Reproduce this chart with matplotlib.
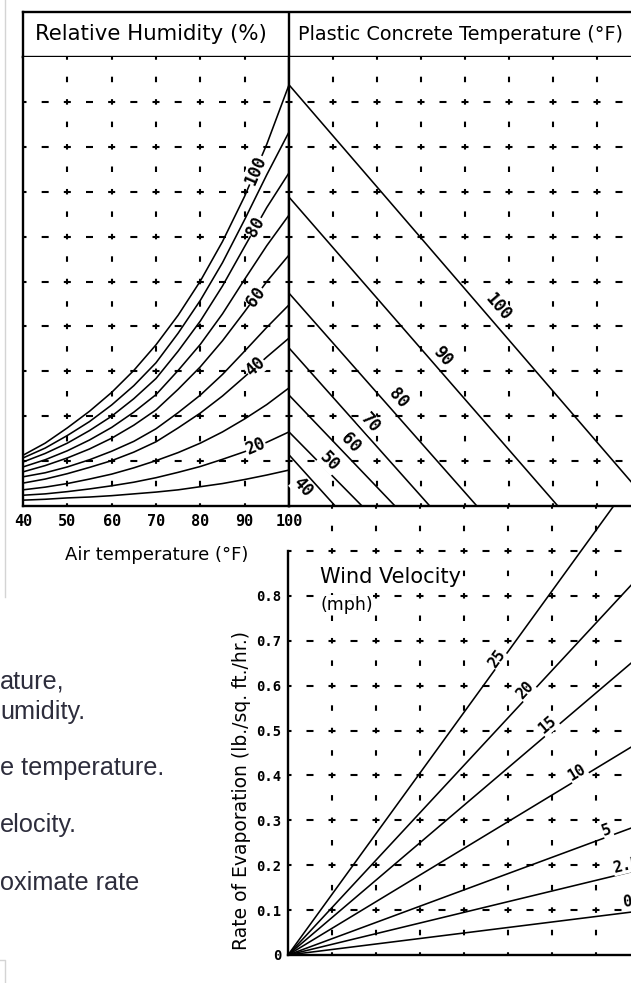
import numpy as np
import matplotlib
matplotlib.use('Agg')
import matplotlib.pyplot as plt
from matplotlib.lines import Line2D

plt.rcParams['lines.scale_dashes'] = False

W, H, DPI = 631, 983, 100

# ---------------- data ----------------
air_temp = [40, 45, 50, 55, 60, 65, 70, 75, 80, 85, 90, 95, 100]
air_ticks = [40, 50, 60, 70, 80, 90, 100]
rh_levels = [100, 90, 80, 70, 60, 50, 40, 30, 20, 10]
rh_100 = [1.13, 1.40, 1.74, 2.11, 2.53, 3.02, 3.59, 4.25, 5.01, 5.89, 6.90, 8.06, 9.38]
rh_90 = [1.07, 1.29, 1.57, 1.88, 2.25, 2.68, 3.19, 3.85, 4.58, 5.42, 6.38, 7.38, 8.33]
rh_80 = [0.98, 1.17, 1.40, 1.68, 2.00, 2.39, 2.84, 3.45, 4.12, 4.90, 5.78, 6.65, 7.42]
rh_70 = [0.87, 1.03, 1.23, 1.47, 1.75, 2.09, 2.48, 3.02, 3.60, 4.28, 5.05, 5.80, 6.48]
rh_60 = [0.76, 0.90, 1.07, 1.27, 1.51, 1.80, 2.14, 2.60, 3.10, 3.68, 4.33, 5.00, 5.59]
rh_50 = [0.65, 0.74, 0.87, 1.03, 1.22, 1.44, 1.72, 2.08, 2.47, 2.93, 3.45, 3.98, 4.48]
rh_40 = [0.51, 0.60, 0.72, 0.86, 1.01, 1.20, 1.43, 1.74, 2.07, 2.45, 2.88, 3.32, 3.74]
rh_30 = [0.36, 0.42, 0.50, 0.60, 0.71, 0.85, 1.01, 1.19, 1.40, 1.65, 1.94, 2.26, 2.63]
rh_20 = [0.24, 0.27, 0.32, 0.38, 0.45, 0.53, 0.63, 0.75, 0.88, 1.04, 1.21, 1.42, 1.65]
rh_10 = [0.13, 0.15, 0.18, 0.20, 0.23, 0.27, 0.31, 0.36, 0.43, 0.50, 0.59, 0.69, 0.80]
rh_curves = [rh_100, rh_90, rh_80, rh_70, rh_60, rh_50, rh_40, rh_30, rh_20, rh_10]
rh_labelled = [100, 80, 60, 40, 20]
rh_label_temp = 92.5

concrete_temps = [100, 90, 80, 70, 60, 50, 40]
concrete_start = [9.38, 6.88, 4.74, 3.52, 2.47, 1.65, 1.14]   # value at the divider
concrete_end = [8.25, 6.11, 4.27, 3.20, 2.41, 1.66, 1.05]     # position where it reaches 0
concrete_label_x = [4.75, 3.48, 2.48, 1.84, 1.39, 0.93, 0.30]
concrete_label_y = [4.43, 3.34, 2.41, 1.85, 1.40, 0.98, 0.42]

wind_speeds = ['25', '20', '15', '10', '5', '2.5', '0']
wind_x_end = 8.0
wind_rate_end = [1.081, 0.845, 0.667, 0.475, 0.290, 0.190, 0.098]
wind_label_x = [4.75, 5.39, 5.91, 6.57, 7.25, 7.70, 7.70]
wind_label_y = [0.660, 0.590, 0.512, 0.407, 0.278, 0.200, 0.117]

rate_ticks = [0, 0.1, 0.2, 0.3, 0.4, 0.5, 0.6, 0.7, 0.8]
rate_ticklabels = ['0', '0.1', '0.2', '0.3', '0.4', '0.5', '0.6', '0.7', '0.8']

page_lines = ['ature,', 'umidity.', 'e temperature.', 'elocity.', 'oximate rate']
page_line_y = [682, 712, 768, 825, 883]

# ---------------- figure ----------------
fig = plt.figure(figsize=(W / DPI, H / DPI), dpi=DPI)
fig.patch.set_facecolor('white')

MONO = 'DejaVu Sans Mono'
SANS = 'DejaVu Sans'
K = 72.0 / DPI  # points per pixel
FRAME_LW = 1.7
CURVE_LW = 1.15
LABEL_FS = 12


def axes_px(box):
    x0, y0, x1, y1 = box
    return fig.add_axes([x0 / W, 1 - y1 / H, (x1 - x0) / W, (y1 - y0) / H])


def dashed_grid(ax, box, xlim, ylim, xs, ys, xstep, ystep):
    x0, y0, x1, y1 = box
    ppx = (x1 - x0) / (xlim[1] - xlim[0])
    ppy = (y1 - y0) / (ylim[1] - ylim[0])
    vper = ppy * ystep / 2 * K
    hper = ppx * xstep / 2 * K
    von, hon = 5.5 * K, 7 * K
    for x in xs:
        ax.plot([x, x], [ylim[0], ylim[1]], color='black', lw=1.5,
                ls=(von / 2, (von, vper - von)), zorder=1)
    for y in ys:
        ax.plot([xlim[0], xlim[1]], [y, y], color='black', lw=1.5,
                ls=(hon / 2, (hon, hper - hon)), zorder=1)
    return ppx, ppy


def screen_angle(ppx, ppy, dx, dy):
    return np.degrees(np.arctan2(dy * ppy, dx * ppx))


label_box = dict(facecolor='white', edgecolor='none', pad=0.4)

# ---- header ----
boxH = (23, 12, 640, 57)
axH = axes_px(boxH)
axH.set_xlim(0, 1)
axH.set_ylim(0, 1)
axH.set_xticks([])
axH.set_yticks([])
for s in ['top', 'bottom', 'left']:
    axH.spines[s].set_linewidth(FRAME_LW)
axH.spines['right'].set_visible(False)
axH.axvline((289 - 23) / (640 - 23), color='black', lw=FRAME_LW)
axH.text((35 - 23) / (640 - 23), 0.5, 'Relative Humidity (%)', fontsize=15.3,
         family=SANS, va='center', ha='left')
axH.text((298 - 23) / (640 - 23), 0.5, 'Plastic Concrete Temperature (°F)',
         fontsize=13.9, family=SANS, va='center', ha='left')

# ---- left panel: relative humidity ----
boxL = (23, 57, 289, 506)
axL = axes_px(boxL)
xlimL, ylimL = (40, 100), (0, 10)
axL.set_xlim(*xlimL)
axL.set_ylim(*ylimL)
ppxL, ppyL = dashed_grid(axL, boxL, xlimL, ylimL, [50, 60, 70, 80, 90],
                         range(1, 10), 10, 1)
for rh, vals in zip(rh_levels, rh_curves):
    axL.plot(air_temp, vals, color='black', lw=CURVE_LW, zorder=3)
    if rh in rh_labelled:
        y = np.interp(rh_label_temp, air_temp, vals)
        dy = np.interp(rh_label_temp + 1, air_temp, vals) - np.interp(rh_label_temp - 1, air_temp, vals)
        ang = screen_angle(ppxL, ppyL, 2, dy)
        axL.text(rh_label_temp, y, str(rh), rotation=ang, rotation_mode='anchor',
                 ha='center', va='center', family=MONO, weight='bold', fontsize=LABEL_FS,
                 bbox=label_box, zorder=5)
axL.set_xticks(air_ticks)
axL.set_xticklabels([str(t) for t in air_ticks], family=MONO, weight='bold', fontsize=11)
axL.set_yticks([])
axL.tick_params(axis='x', length=0, pad=6)
axL.spines['top'].set_visible(False)
for s in ['left', 'right', 'bottom']:
    axL.spines[s].set_linewidth(FRAME_LW)

# ---- right panel: concrete temperature ----
boxR = (289, 57, 631, 506)
axR = axes_px(boxR)
xlimR, ylimR = (0, (631 - 289) / 44.0), (0, 10)
axR.set_xlim(*xlimR)
axR.set_ylim(*ylimR)
ppxR, ppyR = dashed_grid(axR, boxR, xlimR, ylimR, range(1, 8), range(1, 10), 1, 1)
for t, y0, x1, lx, ly in zip(concrete_temps, concrete_start, concrete_end,
                             concrete_label_x, concrete_label_y):
    axR.plot([0, x1], [y0, 0], color='black', lw=CURVE_LW, zorder=3)
    ang = screen_angle(ppxR, ppyR, x1, -y0)
    axR.text(lx, ly, str(t), rotation=ang, rotation_mode='anchor', ha='center',
             va='center', family=MONO, weight='bold', fontsize=LABEL_FS,
             bbox=label_box, zorder=5)
axR.set_xticks([])
axR.set_yticks([])
axR.spines['top'].set_visible(False)
axR.spines['right'].set_visible(False)
for s in ['left', 'bottom']:
    axR.spines[s].set_linewidth(FRAME_LW)

# ---- lower panel: wind velocity ----
boxB = (288, 506, 631, 955)
axB = axes_px(boxB)
xlimB, ylimB = (0, (631 - 288) / 44.0), (0, 1.0)
axB.set_xlim(*xlimB)
axB.set_ylim(*ylimB)
axB.set_zorder(-1)
ppxB, ppyB = dashed_grid(axB, boxB, xlimB, ylimB, range(1, 8),
                         [0.1 * i for i in range(1, 10)], 1, 0.1)
for w, ye, lx, ly in zip(wind_speeds, wind_rate_end, wind_label_x, wind_label_y):
    axB.plot([0, wind_x_end], [0, ye], color='black', lw=CURVE_LW, zorder=3)
    ang = screen_angle(ppxB, ppyB, wind_x_end, ye)
    axB.text(lx, ly, w, rotation=ang, rotation_mode='anchor', ha='center', va='center',
             family=MONO, weight='bold', fontsize=LABEL_FS - 1, bbox=label_box, zorder=5,
             clip_on=False)
axB.set_xticks([])
axB.set_yticks(rate_ticks)
axB.set_yticklabels(rate_ticklabels, family=MONO, weight='bold', fontsize=10)
axB.tick_params(axis='y', length=0, pad=5)
axB.spines['top'].set_visible(False)
axB.spines['right'].set_visible(False)
axB.spines['left'].set_bounds(0, 0.9)
for s in ['left', 'bottom']:
    axB.spines[s].set_linewidth(FRAME_LW)
axB.text((320 - 288) / 44.0, (955 - 577) / 449.0, 'Wind Velocity', fontsize=15,
         family=SANS, va='center', ha='left',
         bbox=dict(facecolor='white', edgecolor='none', pad=0.5), zorder=6)
axB.text((320 - 288) / 44.0, (955 - 605) / 449.0, '(mph)', fontsize=12.5,
         family=SANS, va='center', ha='left',
         bbox=dict(facecolor='white', edgecolor='none', pad=0.5), zorder=6)

# ---- axis titles ----
fig.text(157 / W, 1 - 555 / H, 'Air temperature (°F)', fontsize=13, family=SANS,
         ha='center', va='center')
fig.text(241 / W, 1 - 790 / H, 'Rate of Evaporation (lb./sq. ft./hr.)', fontsize=13.5,
         family=SANS, ha='center', va='center', rotation=90)

# ---- surrounding page fragments ----
for s, y in zip(page_lines, page_line_y):
    fig.text(0 / W, 1 - y / H, s, fontsize=18.2, family='Liberation Sans', color='#2d2d3c',
             ha='left', va='center')
fig.add_artist(Line2D([5 / W, 5 / W], [1, 1 - 597 / H], color='#d4d4d4', lw=1.0))
fig.add_artist(Line2D([0, 5 / W, 5 / W], [1 - 960 / H, 1 - 960 / H, 0], color='#d4d4d4', lw=1.0))

fig.savefig('out.png', dpi=DPI, facecolor='white')
